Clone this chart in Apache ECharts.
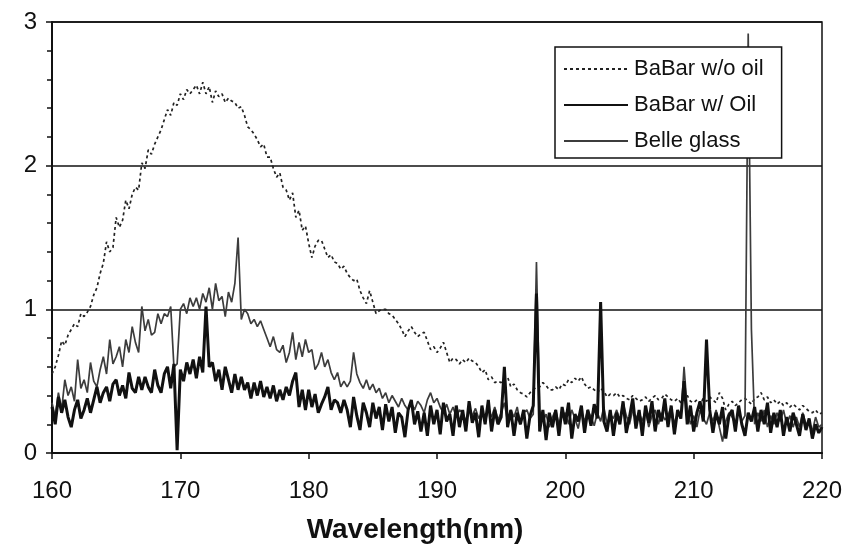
<!DOCTYPE html>
<html>
<head>
<meta charset="utf-8">
<script src="https://cdn.jsdelivr.net/npm/echarts@6/dist/echarts.min.js"></script>
<style>
  html, body { margin: 0; padding: 0; background: #fff; }
  #chart { width: 846px; height: 555px; }
</style>
</head>
<body>
<div id="chart"></div>
<script>
// Transmission spectra sampled every 0.25 nm from 160 nm to 220 nm
const wavelengthStart = 160;
const wavelengthStep = 0.25;

const seriesNames = ['BaBar w/o oil', 'BaBar w/ Oil', 'Belle glass'];

const babarNoOil = [
  0.55, 0.6, 0.68, 0.78,   0.75, 0.82, 0.86, 0.9,   0.88, 0.97, 0.95, 0.98,
  1.02, 1.1, 1.15, 1.25,   1.32, 1.47, 1.4, 1.43,   1.64, 1.57, 1.62, 1.76,
  1.7, 1.8, 1.85, 1.83,    2.02, 1.98, 2.11, 2.08,  2.15, 2.2, 2.25, 2.32,
  2.39, 2.35, 2.44, 2.42,  2.5, 2.46, 2.53, 2.5,    2.53, 2.56, 2.5, 2.58,
  2.5, 2.55, 2.44, 2.52,   2.48, 2.5, 2.44, 2.47,   2.45, 2.44, 2.4, 2.41,
  2.35, 2.27, 2.25, 2.22,  2.18, 2.13, 2.15, 2.06,  2.06, 1.98, 1.92, 1.95,
  1.85, 1.83, 1.76, 1.81,  1.64, 1.69, 1.55, 1.58,  1.46, 1.36, 1.44, 1.48,
  1.48, 1.42, 1.36, 1.38,  1.33, 1.32, 1.28, 1.3,   1.25, 1.22, 1.2, 1.21,
  1.13, 1.08, 1.04, 1.13,  1.05, 0.97, 0.99, 1.0,   1.0, 0.97, 0.96, 0.93,
  0.9, 0.86, 0.81, 0.85,   0.88, 0.84, 0.81, 0.83,  0.84, 0.78, 0.72, 0.74,
  0.7, 0.73, 0.77, 0.7,    0.63, 0.66, 0.65, 0.62,  0.65, 0.63, 0.66, 0.64,
  0.63, 0.6, 0.56, 0.58,   0.51, 0.53, 0.49, 0.5,   0.49, 0.52, 0.53, 0.46,
  0.48, 0.44, 0.42, 0.41,  0.39, 0.42, 0.44, 0.46,  0.46, 0.49, 0.47, 0.44,
  0.44, 0.46, 0.44, 0.48,  0.47, 0.51, 0.49, 0.52,  0.5, 0.53, 0.48, 0.45,
  0.46, 0.44, 0.42, 0.45,  0.43, 0.39, 0.41, 0.4,   0.42, 0.39, 0.4, 0.38,
  0.37, 0.4, 0.38, 0.36,   0.37, 0.39, 0.36, 0.38,  0.4, 0.37, 0.38, 0.41,
  0.39, 0.37, 0.36, 0.38,  0.35, 0.37, 0.4, 0.36,   0.35, 0.37, 0.34, 0.38,
  0.36, 0.39, 0.37, 0.35,  0.42, 0.38, 0.3, 0.34,   0.36, 0.33, 0.35, 0.37,
  0.38, 0.36, 0.34, 0.38,  0.39, 0.42, 0.37, 0.39,  0.35, 0.37, 0.34, 0.36,
  0.33, 0.35, 0.32, 0.34,  0.32, 0.3, 0.33, 0.31,   0.29, 0.28, 0.3, 0.27,
  0.28
];

const babarOil = [
  0.32, 0.2, 0.39, 0.28,   0.37, 0.25, 0.18, 0.3,   0.37, 0.24, 0.3, 0.38,
  0.28, 0.37, 0.46, 0.35,  0.42, 0.46, 0.36, 0.48,  0.51, 0.4, 0.47, 0.38,
  0.56, 0.45, 0.42, 0.53,  0.44, 0.53, 0.46, 0.42,  0.58, 0.47, 0.42, 0.55,
  0.6, 0.45, 0.62, 0.02,   0.58, 0.5, 0.63, 0.55,   0.65, 0.52, 0.67, 0.56,
  1.02, 0.6, 0.63, 0.5,    0.58, 0.44, 0.6, 0.51,   0.42, 0.55, 0.44, 0.53,
  0.44, 0.49, 0.38, 0.49,  0.4, 0.5, 0.39, 0.46,    0.38, 0.47, 0.36, 0.44,
  0.37, 0.46, 0.4, 0.5,    0.56, 0.32, 0.44, 0.3,   0.44, 0.32, 0.41, 0.28,
  0.34, 0.39, 0.46, 0.3,   0.37, 0.35, 0.28, 0.37,  0.3, 0.18, 0.39, 0.26,
  0.16, 0.35, 0.28, 0.18,  0.35, 0.24, 0.32, 0.16,  0.34, 0.22, 0.32, 0.14,
  0.28, 0.25, 0.11, 0.3,   0.37, 0.2, 0.29, 0.15,   0.28, 0.12, 0.33, 0.2,
  0.3, 0.13, 0.35, 0.22,   0.27, 0.12, 0.33, 0.18,  0.3, 0.15, 0.36, 0.21,
  0.28, 0.11, 0.33, 0.2,   0.37, 0.15, 0.3, 0.2,    0.25, 0.6, 0.18, 0.3,
  0.12, 0.28, 0.2, 0.3,    0.1, 0.26, 0.33, 1.11,   0.15, 0.3, 0.09, 0.28,
  0.18, 0.3, 0.12, 0.32,   0.2, 0.35, 0.1, 0.27,    0.22, 0.33, 0.14, 0.3,
  0.19, 0.34, 0.24, 1.05,  0.22, 0.15, 0.3, 0.12,   0.28, 0.2, 0.36, 0.14,
  0.25, 0.38, 0.17, 0.3,   0.12, 0.33, 0.21, 0.36,  0.15, 0.3, 0.22, 0.38,
  0.18, 0.33, 0.13, 0.3,   0.24, 0.5, 0.2, 0.33,    0.15, 0.28, 0.36, 0.22,
  0.79, 0.3, 0.14, 0.28,   0.2, 0.32, 0.1, 0.26,    0.3, 0.15, 0.33, 0.2,
  0.12, 0.28, 0.22, 0.32,  0.15, 0.3, 0.2, 0.35,    0.14, 0.28, 0.18, 0.3,
  0.12, 0.25, 0.15, 0.28,  0.2, 0.12, 0.27, 0.16,   0.24, 0.1, 0.2, 0.14,
  0.18
];

const belleGlass = [
  0.35, 0.25, 0.42, 0.3,   0.51, 0.4, 0.46, 0.36,   0.65, 0.45, 0.51, 0.42,
  0.63, 0.5, 0.46, 0.58,   0.67, 0.55, 0.79, 0.62,  0.67, 0.74, 0.6, 0.79,
  0.7, 0.88, 0.77, 0.7,    1.02, 0.85, 0.93, 0.82,  0.84, 0.97, 0.9, 0.97,
  0.95, 1.02, 0.6, 0.62,   1.0, 1.04, 0.97, 1.08,   1.02, 1.08, 1.0, 1.11,
  1.05, 1.15, 1.0, 1.18,   1.06, 1.09, 0.95, 1.12,  1.05, 1.18, 1.5, 0.93,
  1.0, 0.97, 0.9, 0.93,    0.88, 0.92, 0.86, 0.8,   0.74, 0.81, 0.72, 0.7,
  0.75, 0.63, 0.7, 0.84,   0.65, 0.77, 0.67, 0.79,  0.7, 0.72, 0.58, 0.62,
  0.7, 0.6, 0.65, 0.56,    0.51, 0.56, 0.46, 0.5,   0.46, 0.5, 0.7, 0.55,
  0.49, 0.45, 0.51, 0.44,  0.48, 0.42, 0.45, 0.38,  0.42, 0.35, 0.4, 0.36,
  0.32, 0.38, 0.33, 0.3,   0.35, 0.3, 0.36, 0.33,   0.28, 0.37, 0.42, 0.35,
  0.38, 0.32, 0.28, 0.34,  0.27, 0.32, 0.25, 0.3,   0.28, 0.22, 0.3, 0.26,
  0.31, 0.24, 0.28, 0.22,  0.3, 0.25, 0.32, 0.23,   0.28, 0.35, 0.22, 0.3,
  0.25, 0.32, 0.2, 0.28,   0.3, 0.24, 0.27, 1.33,   0.3, 0.22, 0.27, 0.18,
  0.25, 0.3, 0.2, 0.26,    0.28, 0.2, 0.3, 0.24,    0.17, 0.28, 0.22, 0.3,
  0.25, 0.19, 0.28, 0.22,  0.32, 0.2, 0.27, 0.24,   0.3, 0.22, 0.35, 0.26,
  0.2, 0.3, 0.24, 0.28,    0.22, 0.3, 0.18, 0.26,   0.3, 0.2, 0.28, 0.23,
  0.26, 0.32, 0.2, 0.28,   0.24, 0.6, 0.3, 0.2,     0.26, 0.18, 0.3, 0.24,
  0.2, 0.28, 0.22, 0.3,    0.18, 0.08, 0.22, 0.28,  0.25, 0.2, 0.3, 0.22,
  0.26, 2.92, 0.86, 0.2,   0.28, 0.22, 0.3, 0.18,   0.26, 0.2, 0.28, 0.22,
  0.3, 0.2, 0.26, 0.18,    0.25, 0.18, 0.28, 0.2,   0.22, 0.15, 0.25, 0.18,
  0.2
];

function toPairs(values) {
  return values.map((v, i) => [wavelengthStart + i * wavelengthStep, v]);
}

const fontFamily = "'Liberation Sans', Arial, Helvetica, sans-serif";

const chart = echarts.init(document.getElementById('chart'), null, { renderer: 'canvas' });

chart.setOption({
  animation: false,
  backgroundColor: '#fff',
  grid: {
    left: 52, right: 24, top: 22, bottom: 102,
    show: true, borderColor: '#111', borderWidth: 1.5, backgroundColor: 'transparent'
  },
  legend: {
    data: seriesNames,
    orient: 'vertical',
    left: 555,
    top: 47,
    padding: [11, 18, 6, 8],
    itemWidth: 64,
    itemHeight: 14,
    itemGap: 14,
    backgroundColor: '#fff',
    borderColor: '#111',
    borderWidth: 1.5,
    borderRadius: 0,
    // line samples only, no marker on them
    itemStyle: { opacity: 0 },
    textStyle: { fontFamily, fontSize: 22, color: '#111', padding: [0, 0, 0, 1] }
  },
  xAxis: {
    type: 'value',
    min: 160,
    max: 220,
    interval: 10,
    name: 'Wavelength(nm)',
    nameLocation: 'middle',
    nameGap: 63,
    nameTextStyle: { fontFamily, fontSize: 28, fontWeight: 'bold', color: '#111', padding: [0, 44, 0, 0] },
    axisLine: { show: true, onZero: false, lineStyle: { color: '#111', width: 2 } },
    axisTick: { show: true, length: 6, lineStyle: { color: '#111', width: 1.5 } },
    axisLabel: { fontFamily, fontSize: 24, color: '#111', margin: 26 },
    splitLine: { show: false }
  },
  yAxis: {
    type: 'value',
    min: 0,
    max: 3,
    interval: 1,
    axisLine: { show: true, lineStyle: { color: '#111', width: 2 } },
    axisTick: { show: true, length: 6, lineStyle: { color: '#111', width: 1.5 } },
    minorTick: { show: true, splitNumber: 5, length: 5, lineStyle: { color: '#111', width: 1.5 } },
    axisLabel: { fontFamily, fontSize: 24, color: '#111', margin: 15 },
    splitLine: { show: true, lineStyle: { color: '#111', width: 1.5 } }
  },
  series: [
    {
      name: 'BaBar w/o oil',
      type: 'line',
      data: toPairs(babarNoOil),
      symbol: 'none',
      z: 2,
      lineStyle: { color: '#222', width: 1.7, type: [3, 3] },
      itemStyle: { color: '#222' }
    },
    {
      name: 'Belle glass',
      type: 'line',
      data: toPairs(belleGlass),
      symbol: 'none',
      z: 3,
      lineStyle: { color: '#3c3c3c', width: 1.7 },
      itemStyle: { color: '#3c3c3c' }
    },
    {
      name: 'BaBar w/ Oil',
      type: 'line',
      data: toPairs(babarOil),
      symbol: 'none',
      z: 4,
      lineStyle: { color: '#111', width: 3 },
      itemStyle: { color: '#111' }
    }
  ]
});
</script>
</body>
</html>
